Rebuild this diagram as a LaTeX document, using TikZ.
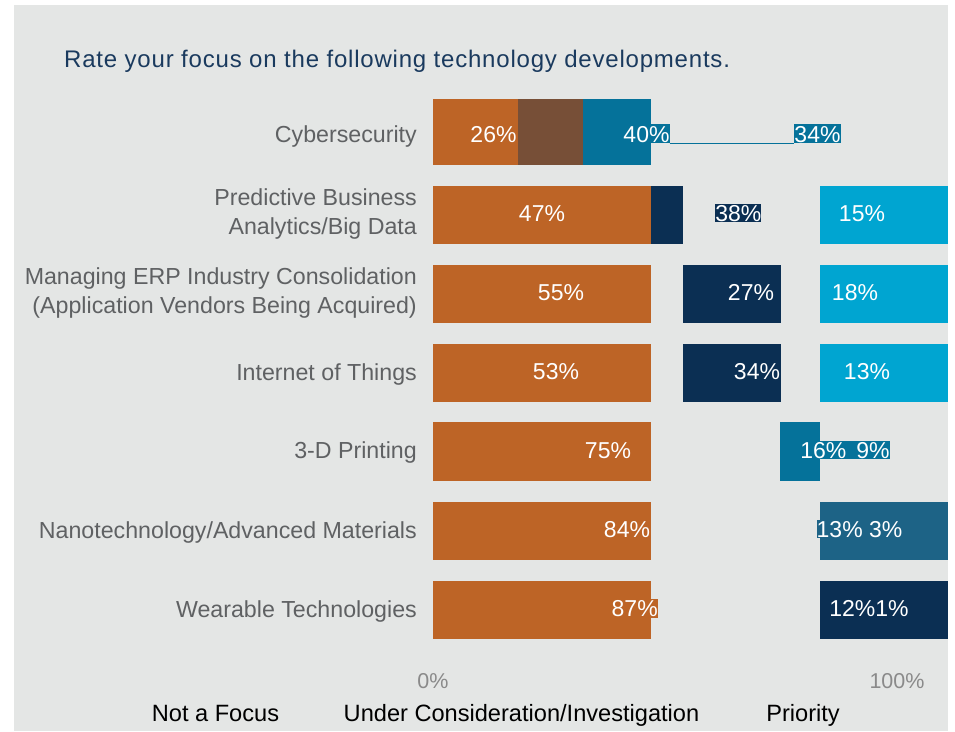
\documentclass[tikz,border=0pt]{standalone}
\usepackage{fontspec}
\setmainfont{Liberation Sans}
\definecolor{panel}{HTML}{E4E6E5}
\definecolor{corange}{HTML}{BD6426}
\definecolor{cbrown}{HTML}{774F37}
\definecolor{cteal}{HTML}{05729A}
\definecolor{cnavy}{HTML}{0B2F53}
\definecolor{clblue}{HTML}{00A5D1}
\definecolor{cmblue}{HTML}{1D6386}
\definecolor{ctitle}{HTML}{1A3A5E}
\definecolor{ccat}{HTML}{5F6163}
\definecolor{caxis}{HTML}{8A8A8A}
\begin{document}
\begin{tikzpicture}[x=1pt,y=-1pt,
  barbox/.style={draw=none,inner sep=0pt,outer sep=0pt,anchor=north west},
  pct/.style={text=white,font=\fontsize{23}{27}\selectfont,inner sep=0pt,outer sep=0pt,anchor=base},
  pctbox/.style={pct,text height=18pt,text depth=0.8pt},
  cat/.style={text=ccat,font=\fontsize{23.2}{27}\selectfont,inner sep=0pt,anchor=base east},
  axlab/.style={text=caxis,font=\fontsize{21.5}{25}\selectfont,inner sep=0pt,anchor=base},
  leg/.style={text=black,font=\fontsize{23.6}{28}\selectfont,inner sep=0pt,anchor=base}]
\useasboundingbox (0,0) rectangle (955,731);
\fill[white] (0,0) rectangle (955,731);
\node[barbox,fill=panel,minimum width=934pt,minimum height=726pt] (bg) at (14,5) {};

% title
\node[text=ctitle,font=\fontsize{24}{28}\selectfont\addfontfeatures{LetterSpace=3.3},inner sep=0pt,anchor=base west] (title) at (64,67.3) {Rate your focus on the following technology developments.};

% category labels
\node[cat] (c1) at (417,142) {Cybersecurity};
\node[cat] (c2a) at (417,205.8) {Predictive Business};
\node[cat] (c2b) at (417,234.2) {Analytics/Big Data};
\node[cat] (c3a) at (417,284.8) {Managing ERP Industry Consolidation};
\node[cat] (c3b) at (417,313.2) {(Application Vendors Being Acquired)};
\node[cat] (c4) at (417,380) {Internet of Things};
\node[cat] (c5) at (417,458.3) {3-D Printing};
\node[cat] (c6) at (417,538) {Nanotechnology/Advanced Materials};
\node[cat] (c7) at (417,617) {Wearable Technologies};

% row 1
\node[barbox,fill=corange,minimum width=85pt,minimum height=66pt] (b1a) at (433,99) {};
\node[barbox,fill=cbrown,minimum width=65pt,minimum height=66pt] (b1b) at (518,99) {};
\node[barbox,fill=cteal,minimum width=68pt,minimum height=66pt] (b1c) at (583,99) {};
% row 2
\node[barbox,fill=corange,minimum width=218pt,minimum height=58pt] (b2a) at (433,186) {};
\node[barbox,fill=cnavy,minimum width=32pt,minimum height=58pt] (b2b) at (651,186) {};
\node[barbox,fill=clblue,minimum width=128pt,minimum height=58pt] (b2c) at (820,186) {};
% row 3
\node[barbox,fill=corange,minimum width=218pt,minimum height=58pt] (b3a) at (433,264.5) {};
\node[barbox,fill=cnavy,minimum width=98pt,minimum height=58pt] (b3b) at (683,264.5) {};
\node[barbox,fill=clblue,minimum width=128pt,minimum height=58pt] (b3c) at (820,264.5) {};
% row 4
\node[barbox,fill=corange,minimum width=218pt,minimum height=57.5pt] (b4a) at (433,344) {};
\node[barbox,fill=cnavy,minimum width=98pt,minimum height=57.5pt] (b4b) at (683,344) {};
\node[barbox,fill=clblue,minimum width=128pt,minimum height=57.5pt] (b4c) at (820,344) {};
% row 5
\node[barbox,fill=corange,minimum width=218pt,minimum height=58.5pt] (b5a) at (433,422) {};
\node[barbox,fill=cteal,minimum width=40pt,minimum height=58.5pt] (b5b) at (780,422) {};
% row 6
\node[barbox,fill=corange,minimum width=218pt,minimum height=58pt] (b6a) at (433,502) {};
\node[barbox,fill=cmblue,minimum width=128pt,minimum height=58pt] (b6b) at (820,502) {};
% row 7
\node[barbox,fill=corange,minimum width=218pt,minimum height=57.7pt] (b7a) at (433,581) {};
\node[barbox,fill=cnavy,minimum width=128pt,minimum height=57.7pt] (b7b) at (820,581) {};

% value labels
\node[pct] (v1a) at (493.5,142) {26\%};
\node[pctbox,fill=cteal] (v1c) at (646.5,142) {40\%};
\node[pctbox,fill=cteal] (v1d) at (817.5,142) {34\%};
\draw[cteal,line width=1.2pt] ([yshift=-0.6pt]v1c.south east) -- ([yshift=-0.6pt]v1d.south west);

\node[pct] (v2a) at (542,221.5) {47\%};
\node[pctbox,fill=cnavy] (v2b) at (738.3,221.5) {38\%};
\node[pct] (v2c) at (862,221.5) {15\%};

\node[pct] (v3a) at (561,300.7) {55\%};
\node[pct] (v3b) at (751,300.7) {27\%};
\node[pct] (v3c) at (855,300.7) {18\%};

\node[pct] (v4a) at (556,379.3) {53\%};
\node[pct] (v4b) at (757,379.3) {34\%};
\node[pct] (v4c) at (867,379.3) {13\%};

\node[pct] (v5a) at (608,458.5) {75\%};
\node[pctbox,fill=cteal] (v5b) at (845,458.5) {16\%\hspace{10pt}9\%};

\node[pct] (v6a) at (627,537.5) {84\%};
\node[pctbox,fill=cmblue] (v6b) at (859.5,537.5) {13\% 3\%};

\node[pctbox,fill=corange] (v7a) at (634.7,616.7) {87\%};
\node[pct] (v7b) at (869,616.7) {12\%1\%};

% axis
\node[axlab] (ax0) at (433,688) {0\%};
\node[axlab] (ax100) at (897,688) {100\%};

% legend
\node[leg] (l1) at (215.5,721.5) {Not a Focus};
\node[leg] (l2) at (521.5,721.5) {Under Consideration/Investigation};
\node[leg] (l3) at (803,721.5) {Priority};
\end{tikzpicture}
\end{document}
